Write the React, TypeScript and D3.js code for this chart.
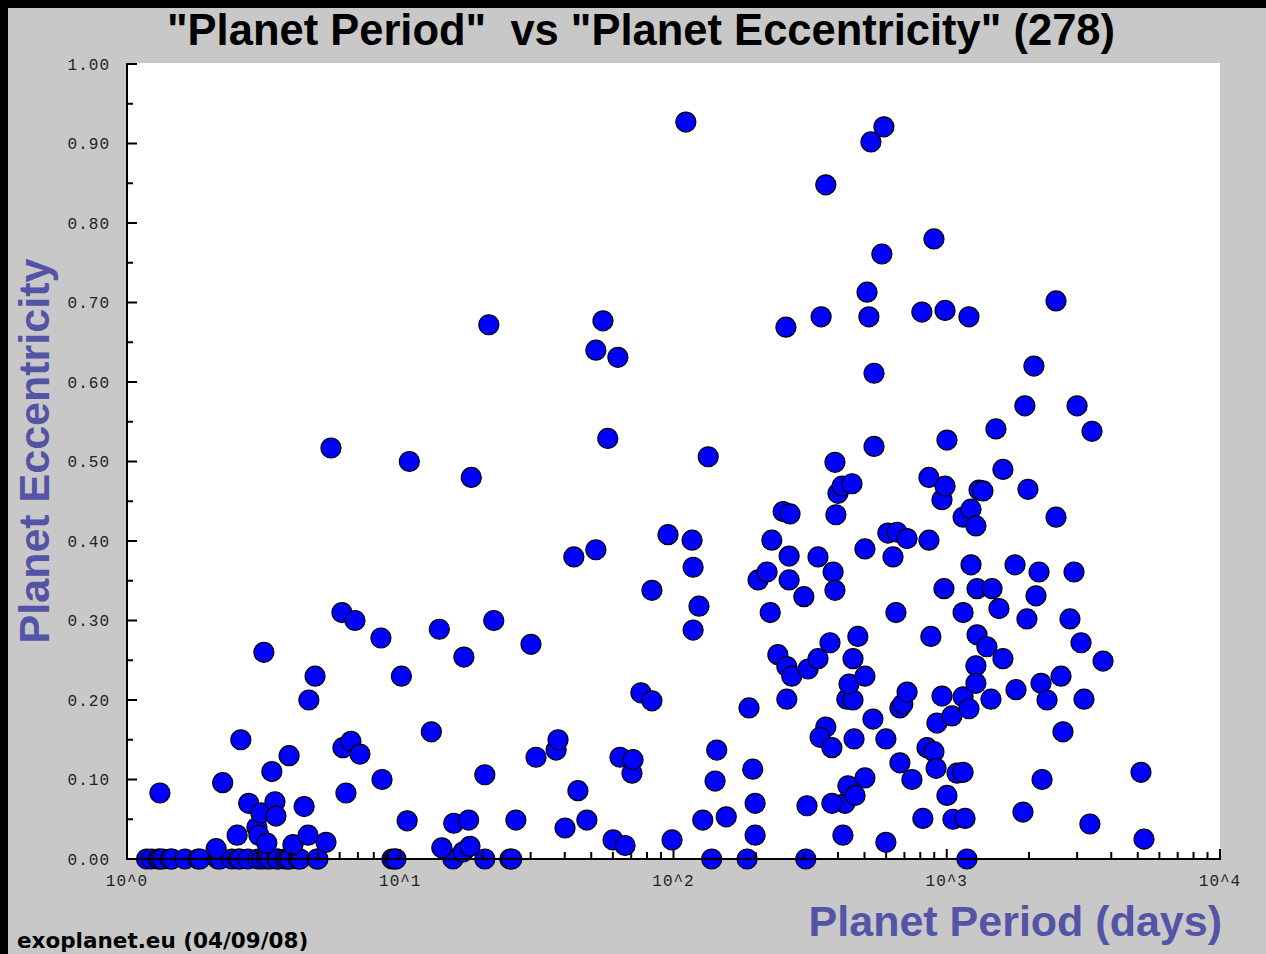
import React, {useRef, useEffect} from 'react';
import * as d3 from 'd3';

// orbital period in days (log axis)
const periodDays: number[] = [
    // e = 0
    1.18, 1.23, 1.30, 1.32, 1.35, 1.44, 1.46, 1.63, 1.82, 1.85, 2.15, 2.19, 2.42, 2.55, 2.59, 2.77, 3.02, 3.12, 3.25, 3.34,
    3.54, 3.57, 3.79, 3.88, 3.95, 4.23, 4.30, 4.96, 5.00, 9.33, 9.57, 9.65, 15.6, 20.4, 25.2, 25.6, 138, 186, 305, 1186,
    // short periods
    1.32, 2.12, 2.24, 2.53, 2.61, 2.79, 2.99, 3.04, 3.09, 3.17, 3.25, 3.39, 3.48, 3.51, 3.92, 4.05, 4.45, 4.60, 4.63, 4.88,
    5.35, 5.58, 6.12, 6.17, 6.33, 6.60, 6.83, 7.12, 8.50, 8.58, 10.1, 10.6, 10.8, 13.0, 13.9, 14.2,
    // 15 - 160 days
    15.7, 17.0, 17.8, 18.0, 18.2, 20.4, 21.1, 22.0, 17.1, 26.5, 30.1, 31.4, 37.2, 37.8, 40.1, 43.2, 44.7, 48.2, 52.0, 52.0,
    55.2, 57.5, 60.1, 62.6, 63.7, 66.5, 70.5, 71.1, 76.0, 83.4, 83.4, 95.5, 98.8, 111, 117, 118, 118, 124, 128, 134,
    142, 144, 156,
    // 180 - 230 days
    189, 204, 195, 199, 199, 220, 229, 226,
    // 240 - 1100 days
    252, 267, 258, 265, 265, 241, 260, 271, 260, 300, 311, 338, 338, 347, 361, 361, 344, 380, 374, 384,
    390, 393, 390, 400, 414, 450, 417, 424, 380, 308, 435, 462, 431, 454, 439, 454, 458, 473, 502, 502,
    502, 511, 519, 528, 537, 542, 542, 579, 589, 599, 599, 609, 658, 716, 636, 652, 674, 691, 716, 674,
    746, 811, 818, 847, 861, 861, 875, 898, 898, 914, 921, 961, 961, 977, 986, 986, 1002, 1002, 1045, 1054,
    1091,
    // long periods
    1148, 1227, 1279, 1206, 1313, 1227, 1291, 1148, 1148, 1206, 1148, 1167, 1291, 1279, 1279, 1357, 1403, 1452, 1465, 1514,
    1553, 1606, 1606, 1778, 1793, 1901, 1932, 1966, 1983, 2085, 2122, 2177, 2214, 2233, 2329, 2512, 2512, 2620, 2663, 2825,
    2923, 2999, 3101, 3180, 3342, 3402, 3733, 5140, 5272,
];

const eccentricity: number[] = [
    0, 0, 0, 0, 0, 0, 0, 0, 0, 0, 0, 0, 0, 0, 0, 0, 0, 0, 0, 0,
    0, 0, 0, 0, 0, 0, 0, 0, 0, 0, 0, 0, 0, 0, 0, 0, 0, 0, 0, 0,
    0.083, 0.013, 0.096, 0.03, 0.15, 0.07, 0.04, 0.03, 0.058, 0.26, 0.02, 0.11, 0.072, 0.054, 0.13, 0.018, 0.066, 0.03, 0.20, 0.23,
    0.021, 0.517, 0.31, 0.14, 0.083, 0.148, 0.30, 0.132, 0.278, 0.10, 0.23, 0.048, 0.50, 0.16, 0.289, 0.014,
    0.045, 0.009, 0.049, 0.016, 0.48, 0.106, 0.672, 0.30, 0.254, 0.049, 0.27, 0.128, 0.137, 0.15, 0.039, 0.38, 0.086, 0.049, 0.389, 0.64,
    0.677, 0.529, 0.024, 0.631, 0.128, 0.017, 0.108, 0.125, 0.209, 0.199, 0.338, 0.408, 0.024, 0.927, 0.401, 0.367, 0.288, 0.318, 0.049, 0.506,
    0.098, 0.137, 0.053,
    0.19, 0.351, 0.113, 0.07, 0.03, 0.361, 0.401, 0.31,
    0.437, 0.434, 0.669, 0.381, 0.351, 0.257, 0.242, 0.23, 0.201, 0.33, 0.239, 0.252, 0.38, 0.682, 0.848, 0.166, 0.153, 0.14, 0.272, 0.361,
    0.338, 0.433, 0.499, 0.46, 0.469, 0.472, 0.03, 0.07, 0.07, 0.067, 0.092, 0.08, 0.201, 0.2, 0.22, 0.252, 0.151, 0.28, 0.23, 0.39,
    0.102, 0.713, 0.682, 0.902, 0.176, 0.611, 0.519, 0.761, 0.921, 0.151, 0.021, 0.41, 0.411, 0.403, 0.38, 0.31, 0.19, 0.195, 0.21, 0.121,
    0.1, 0.688, 0.051, 0.14, 0.48, 0.401, 0.28, 0.78, 0.135, 0.114, 0.171, 0.452, 0.205, 0.34, 0.69, 0.469, 0.527, 0.08, 0.18, 0.05,
    0.108,
    0.43, 0.44, 0.419, 0.682, 0.464, 0.37, 0.34, 0.31, 0.204, 0.189, 0.109, 0.051, 0.282, 0.243, 0.221, 0.463, 0.267, 0.201, 0.34, 0.541,
    0.315, 0.49, 0.252, 0.37, 0.213, 0.059, 0.57, 0.302, 0.465, 0.62, 0.331, 0.361, 0.221, 0.1, 0.2, 0.702, 0.43, 0.23, 0.16, 0.302,
    0.361, 0.57, 0.272, 0.201, 0.044, 0.538, 0.249, 0.109, 0.025,
];

const yTicks = [0, 0.1, 0.2, 0.3, 0.4, 0.5, 0.6, 0.7, 0.8, 0.9, 1.0];
const xDecades = [1, 10, 100, 1000, 10000];
const xTickLabels = ['10^0', '10^1', '10^2', '10^3', '10^4'];

const title = '"Planet Period"  vs "Planet Eccentricity" (278)';
const xTitle = 'Planet Period (days)';
const yTitle = 'Planet Eccentricity';
const credit = 'exoplanet.eu (04/09/08)';

const W = 1266;
const H = 954;
const left = 127, right = 1220, top = 64, bottom = 859;
const labelColor = '#5454a6';

const App: React.FC = () => {
    const svgRef = useRef<SVGSVGElement>(null);

    useEffect(() => {
        if (!svgRef.current) return;
        const svg = d3.select(svgRef.current);
        svg.selectAll('*').remove();

        const x = d3.scaleLog().domain([1, 10000]).range([left, right]);
        const y = d3.scaleLinear().domain([0, 1]).range([bottom, top]);

        // 背景
        svg.append('rect').attr('width', W).attr('height', H).attr('fill', '#000');
        svg.append('rect').attr('x', 8).attr('y', 8).attr('width', W - 8).attr('height', H - 8).attr('fill', '#c8c8c8');
        svg.append('rect').attr('x', left).attr('y', top - 1).attr('width', right - left).attr('height', bottom - top + 1).attr('fill', '#fff');

        // 標題
        svg.append('text')
            .attr('x', 641).attr('y', 45)
            .attr('text-anchor', 'middle')
            .style('font-family', '"Liberation Sans", Arial, sans-serif')
            .style('font-weight', 'bold')
            .style('font-size', '43.5px')
            .style('white-space', 'pre')
            .attr('fill', '#000')
            .text(title);

        // 點
        const pts = periodDays.map((p, i) => [p, eccentricity[i]] as [number, number]);
        svg.append('g').selectAll('circle')
            .data(pts)
            .join('circle')
            .attr('cx', d => x(d[0]))
            .attr('cy', d => y(d[1]))
            .attr('r', 10)
            .attr('fill', '#0000ff')
            .attr('stroke', '#000')
            .attr('stroke-width', 1.2);

        const axis = svg.append('g').attr('stroke', '#000');

        // y 軸
        axis.append('line').attr('x1', left).attr('x2', left).attr('y1', top - 1).attr('y2', bottom + 1).attr('stroke-width', 2);
        d3.range(0, 21).forEach(k => {
            const v = k / 20;
            axis.append('line')
                .attr('x1', left).attr('x2', left + (k % 2 === 0 ? 10 : 6))
                .attr('y1', y(v)).attr('y2', y(v))
                .attr('stroke-width', 2);
        });
        svg.append('g').selectAll('text')
            .data(yTicks)
            .join('text')
            .attr('x', 110).attr('y', d => y(d))
            .attr('dy', '0.35em')
            .attr('text-anchor', 'end')
            .style('font-family', '"Liberation Mono", "DejaVu Sans Mono", monospace')
            .style('font-size', '16px')
            .style('letter-spacing', '1px')
            .attr('fill', '#222')
            .text(d => d3.format('.2f')(d));

        // x 軸
        axis.append('line').attr('x1', left - 1).attr('x2', right + 1).attr('y1', bottom).attr('y2', bottom).attr('stroke-width', 2);
        xDecades.forEach((dec, i) => {
            axis.append('line')
                .attr('x1', x(dec)).attr('x2', x(dec))
                .attr('y1', bottom).attr('y2', bottom - 10)
                .attr('stroke-width', 2);
            if (i < xDecades.length - 1) {
                d3.range(2, 10).forEach(m => {
                    axis.append('line')
                        .attr('x1', x(dec * m)).attr('x2', x(dec * m))
                        .attr('y1', bottom).attr('y2', bottom - 7)
                        .attr('stroke-width', 2);
                });
            }
        });
        svg.append('g').selectAll('text')
            .data(xDecades)
            .join('text')
            .attr('x', d => x(d)).attr('y', 886)
            .attr('text-anchor', 'middle')
            .style('font-family', '"Liberation Mono", "DejaVu Sans Mono", monospace')
            .style('font-size', '16px')
            .style('letter-spacing', '1px')
            .attr('fill', '#222')
            .text((d, i) => xTickLabels[i]);

        // 軸標題
        svg.append('text')
            .attr('transform', 'translate(49,451) rotate(-90)')
            .attr('text-anchor', 'middle')
            .style('font-family', '"Liberation Sans", Arial, sans-serif')
            .style('font-weight', 'bold')
            .style('font-size', '43px')
            .attr('fill', labelColor)
            .text(yTitle);

        svg.append('text')
            .attr('x', 1222).attr('y', 936)
            .attr('text-anchor', 'end')
            .style('font-family', '"Liberation Sans", Arial, sans-serif')
            .style('font-weight', 'bold')
            .style('font-size', '43px')
            .attr('fill', labelColor)
            .text(xTitle);

        svg.append('text')
            .attr('x', 17).attr('y', 948)
            .style('font-family', '"DejaVu Sans", Verdana, sans-serif')
            .style('font-weight', 'bold')
            .style('font-size', '21.5px')
            .attr('fill', '#000')
            .text(credit);
    }, []);

    return (
        <svg
            ref={svgRef}
            width={W}
            height={H}
            viewBox={`0 0 ${W} ${H}`}
            style={{position: 'absolute', left: 0, top: 0, display: 'block'}}
        />
    );
};

export default App;
